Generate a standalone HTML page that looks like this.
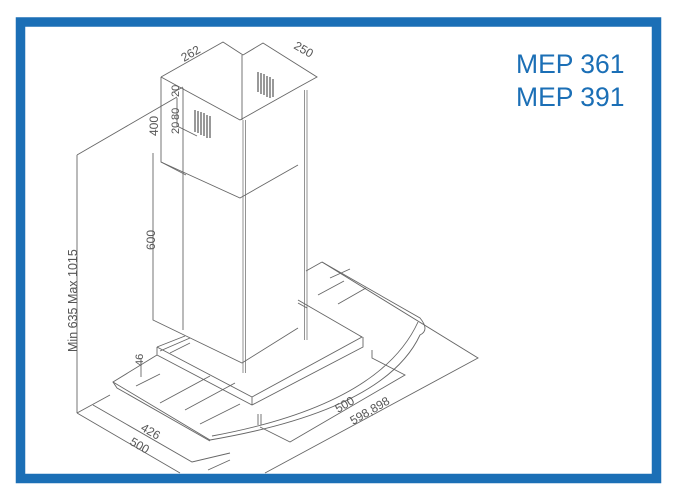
<!DOCTYPE html>
<html><head><meta charset="utf-8"><style>
html,body{margin:0;padding:0;background:#fff;}
svg{display:block;}
text{font-family:"Liberation Sans",sans-serif;fill:#555;}
</style></head><body>
<svg width="674" height="492" viewBox="0 0 674 492" xmlns="http://www.w3.org/2000/svg">
<rect x="0" y="0" width="674" height="492" fill="#fff"/>
<rect x="20.5" y="22" width="636" height="456.5" fill="none" stroke="#1b6fb6" stroke-width="9.5"/>
<text x="516" y="73" font-size="26.5" style="fill:#1b6fb6">MEP 361</text>
<text x="516" y="106" font-size="26.5" style="fill:#1b6fb6">MEP 391</text>
<g stroke="#666" stroke-width="0.9" fill="none">
<path d="M161 77 L223 42 L243 55"/>
<path d="M161 77 L240 120 L297 88 L317 77 L263 43 L243 55"/>
<path d="M242 55 L242 120"/>
<g stroke="#333" stroke-width="1">
<path d="M258 72v20M261 73v21M264 74v21M267 76v21M270 77v21M273 79v18"/>
<path d="M195 110v22M198 111v22M201 112v23M204 113v23M207 115v23M210 116v22"/>
</g>
<path d="M177 98 L177 126 L197 136"/>
<path d="M174 92 L183 87"/>
<path d="M161 77 L161 162 L240 198 L298 165"/>
<path d="M161 162 L186 175"/>
<path d="M304.5 90 L304.5 340 M307 90 L307 340" stroke-width="0.7"/>
<path d="M243 120 L243 373 M245.5 120 L245.5 373" stroke-width="0.7"/>
<path d="M183 88 L183 330"/>
<path d="M153 153 L153 320 L242 363 L298 328"/>
<path d="M77 155 L177 97 M77 155 L77 413"/>
<path d="M322 262 L420 318 Q430 330 420 335 Q385 410 210 440 L113 382 L157 355"/>
<path d="M418 322 Q380 405 212 436"/>
<path d="M322 262 L306 271"/>
<path d="M298 300 L362 337 M298 303 L307 308"/>
<path d="M330 278 L350 269 M318 295 L344 281 M338 304 L366 288"/>
<path d="M157 347 L252 397 L362 337 L360 336"/>
<path d="M157 347 L157 355 L252 405 L363 347 L363 337"/>
<path d="M252 397 L252 405"/>
<path d="M157 347 L185 336 M160 351 L190 338"/>
<path d="M170 353 L190 343"/>
<path d="M113 382 L117 388 L210 441"/>
<path d="M136 386 L160 374 M160 403 L210 376 M185 410 L235 383 M200 424 L240 404"/>
<path d="M141 377 L141 358"/>
<path d="M77 413 L180 473 M77 413 L110 395"/>
<path d="M93 405 L192 462 L230 453"/>
<path d="M208 470 L230 460"/>
<path d="M322 262 L478 358 L265 473"/>
<path d="M372 350 L372 358 L405 375 L290 442 L260 427"/>
<path d="M258 414 L258 425 M261 414 L261 425"/>
</g>
<g font-size="12">
<text transform="translate(184,62) rotate(-30)">262</text>
<text transform="translate(293,48) rotate(30)">250</text>
<text transform="translate(179,97) rotate(-90)" font-size="11">20</text>
<text transform="translate(179,120) rotate(-90)" font-size="11">80</text>
<text transform="translate(179,134) rotate(-90)" font-size="11">20</text>
<text transform="translate(158,136) rotate(-90)">400</text>
<text transform="translate(155,250) rotate(-90)">600</text>
<text transform="translate(77,352) rotate(-90)" font-size="12.5">Min 635  Max 1015</text>
<text transform="translate(143,366) rotate(-90)" font-size="11">46</text>
<text transform="translate(140,430) rotate(30)">426</text>
<text transform="translate(129,444) rotate(30)">500</text>
<text transform="translate(338,413) rotate(-30)">500</text>
<text transform="translate(353,425) rotate(-30)">598,898</text>
</g>
</svg>
</body></html>
